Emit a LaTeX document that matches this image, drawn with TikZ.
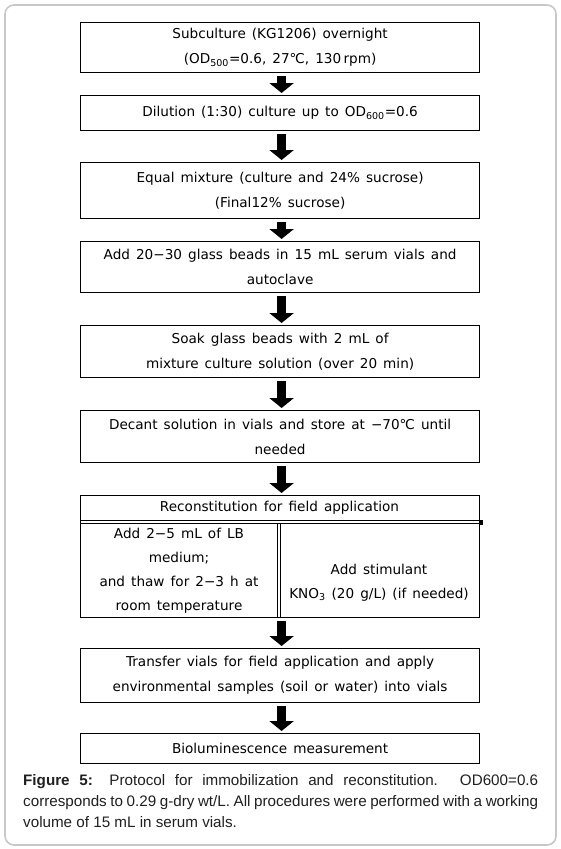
\documentclass[tikz,border=0pt]{standalone}
\usepackage{fontspec}
\setmainfont{Liberation Sans}
\newfontfamily\boxfont[WordSpace=1.4]{DejaVu Sans}
\usetikzlibrary{arrows.meta}
\begin{document}
\begin{tikzpicture}[x=1pt,y=-1pt,
  box/.style={draw, line width=1.2pt, minimum width=399pt, anchor=north west, inner sep=0pt, align=center,
    font=\boxfont\fontsize{13.6}{25}\selectfont},
  cell/.style={inner sep=0pt, align=center, font=\boxfont\fontsize{13.6}{24}\selectfont},
  flow/.style={line width=9pt, -{Triangle[width=24pt,length=10pt]}, shorten <=3pt, shorten >=2pt},
  frame/.style={draw=black!22, line width=1.6pt, rounded corners=9pt}]
\useasboundingbox (0,0) rectangle (561,849);
\draw[frame] (5,5) rectangle (556,845);

\node[box, minimum height=50pt] (b1) at (80,22) {Subculture (KG1206) overnight\\(OD\textsubscript{500}=0.6, 27℃, 130\,rpm)};
\node[box, minimum height=35pt] (b2) at (80,95) {Dilution (1:30) culture up to OD\textsubscript{600}=0.6};
\node[box, minimum height=56pt] (b3) at (80,162) {Equal mixture (culture and 24\% sucrose)\\(Final12\% sucrose)};
\node[box, minimum height=51pt] (b4) at (80,241) {Add 20−30 glass beads in 15 mL serum vials and\\autoclave};
\node[box, minimum height=52pt] (b5) at (80,325) {Soak glass beads with 2 mL of\\mixture culture solution (over 20 min)};
\node[box, minimum height=52pt] (b6) at (80,410) {Decant solution in vials and store at −70℃ until\\needed};

% reconstitution block
\node[box, minimum height=122pt] (b7) at (80,495) {};
\node[cell] (hdr) at (279.5,508) {Reconstitution for field application};
\node[cell] (lc) at (179,571) {Add 2−5 mL of LB\\medium;\\and thaw for 2−3 h at\\room temperature};
\node[cell] (rc) at (379,583) {Add stimulant\\KNO\textsubscript{3} (20 g/L) (if needed)};
\draw[line width=1pt] (b7.west |- 0,520.5) -- (481,520.5);
\draw[line width=1pt] (b7.west |- 0,523.5) -- (481,523.5);
\fill (478.5,519.5) rectangle (482.5,524.5);
\draw[line width=1pt] (277,523.5) -- (277,617);
\draw[line width=1pt] (280,523.5) -- (280,617);

\node[box, minimum height=54pt] (b8) at (80,648) {Transfer vials for field application and apply\\environmental samples (soil or water) into vials};
\node[box, minimum height=30pt] (b9) at (80,733) {Bioluminescence measurement};

\foreach \a/\b in {b1/b2,b2/b3,b3/b4,b4/b5,b5/b6,b6/b7,b7/b8,b8/b9}
  \draw[flow] ([xshift=1.5pt]\a.south) -- ([xshift=1.5pt]\b.north);

\node[anchor=north west, inner sep=0pt, text width=515pt, align=justify,
  font=\fontsize{15.2}{21}\selectfont, text=black!88] (cap) at (23,774)
  {\textbf{Figure 5:} Protocol for immobilization and reconstitution. OD600=0.6\linebreak
  corresponds to 0.29 g-dry wt/L. All procedures were performed with a working\linebreak
  volume of 15 mL in serum vials.};
\end{tikzpicture}
\end{document}
